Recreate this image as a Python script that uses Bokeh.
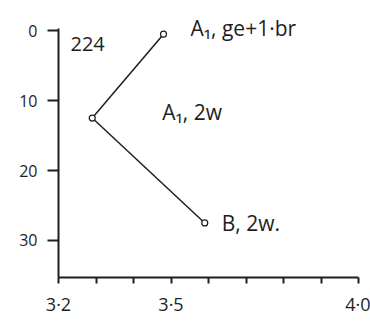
from bokeh.plotting import figure
from bokeh.models import Range1d, FixedTicker, Label
from bokeh.embed import file_html
from bokeh.resources import INLINE

# Sample points: x value, depth value, annotation
x_vals = [3.48, 3.29, 3.59]
y_vals = [0.5, 12.5, 27.5]
point_labels = ["A₁, ge+1·br", "A₁, 2w", "B, 2w."]
panel_id = "224"

x_ticks = [3.2, 3.5, 4.0]
x_minor = [3.3, 3.4, 3.6, 3.7, 3.8, 3.9]
x_tick_text = {3.2: "3·2", 3.5: "3·5", 4.0: "4·0"}
y_ticks = [0, 10, 20, 30]

ink = "#1e1e1e"
font = "Open Sans"

p = figure(width=370, height=322, output_backend="svg", toolbar_location=None,
           x_range=Range1d(3.2, 4.0), y_range=Range1d(35.3, -3.6),
           min_border_left=58, min_border_right=12, min_border_top=5,
           min_border_bottom=45)
p.outline_line_color = None
p.grid.visible = False
p.background_fill_color = "white"
p.border_fill_color = "white"

# x axis
xa = p.xaxis[0]
xa.ticker = FixedTicker(ticks=x_ticks, minor_ticks=x_minor)
xa.major_label_overrides = x_tick_text
xa.axis_line_width = 2
xa.axis_line_color = ink
xa.major_tick_line_color = ink
xa.major_tick_line_width = 2
xa.major_tick_in = 0
xa.major_tick_out = 6
xa.minor_tick_line_color = ink
xa.minor_tick_line_width = 2
xa.minor_tick_in = 0
xa.minor_tick_out = 6
xa.major_label_standoff = 8
xa.major_label_text_font = font
xa.major_label_text_font_size = "18px"
xa.major_label_text_color = ink

# y axis, drawn only over the depth interval
ya = p.yaxis[0]
ya.ticker = FixedTicker(ticks=y_ticks)
ya.bounds = (-0.3, 35.3)
ya.axis_line_width = 2
ya.axis_line_color = ink
ya.major_tick_line_color = ink
ya.major_tick_line_width = 2
ya.major_tick_in = 0
ya.major_tick_out = 11
ya.minor_tick_line_color = None
ya.major_label_standoff = 10
ya.major_label_text_font = font
ya.major_label_text_font_size = "16px"
ya.major_label_text_color = ink

# Connecting lines from the middle sample to the others
for i in (0, 2):
    p.line([x_vals[1], x_vals[i]], [y_vals[1], y_vals[i]], line_color=ink,
           line_width=1.5)
p.scatter(x_vals, y_vals, marker="circle", size=6, fill_color="white",
          line_color=ink, line_width=1.2)

# Annotations
label_offsets = [(27, 6), (70, 6), (17, 0)]
for xv, yv, txt, (dx, dy) in zip(x_vals, y_vals, point_labels, label_offsets):
    p.add_layout(Label(x=xv, y=yv, text=txt, x_offset=dx, y_offset=dy,
                       text_font=font, text_font_size="21px", text_color=ink,
                       text_baseline="middle"))

p.add_layout(Label(x=3.2, y=0, text=panel_id, x_offset=12, y_offset=-13,
                   text_font=font, text_font_size="20px", text_color=ink,
                   text_baseline="middle"))

open("out.html", "w").write(file_html(p, INLINE))
